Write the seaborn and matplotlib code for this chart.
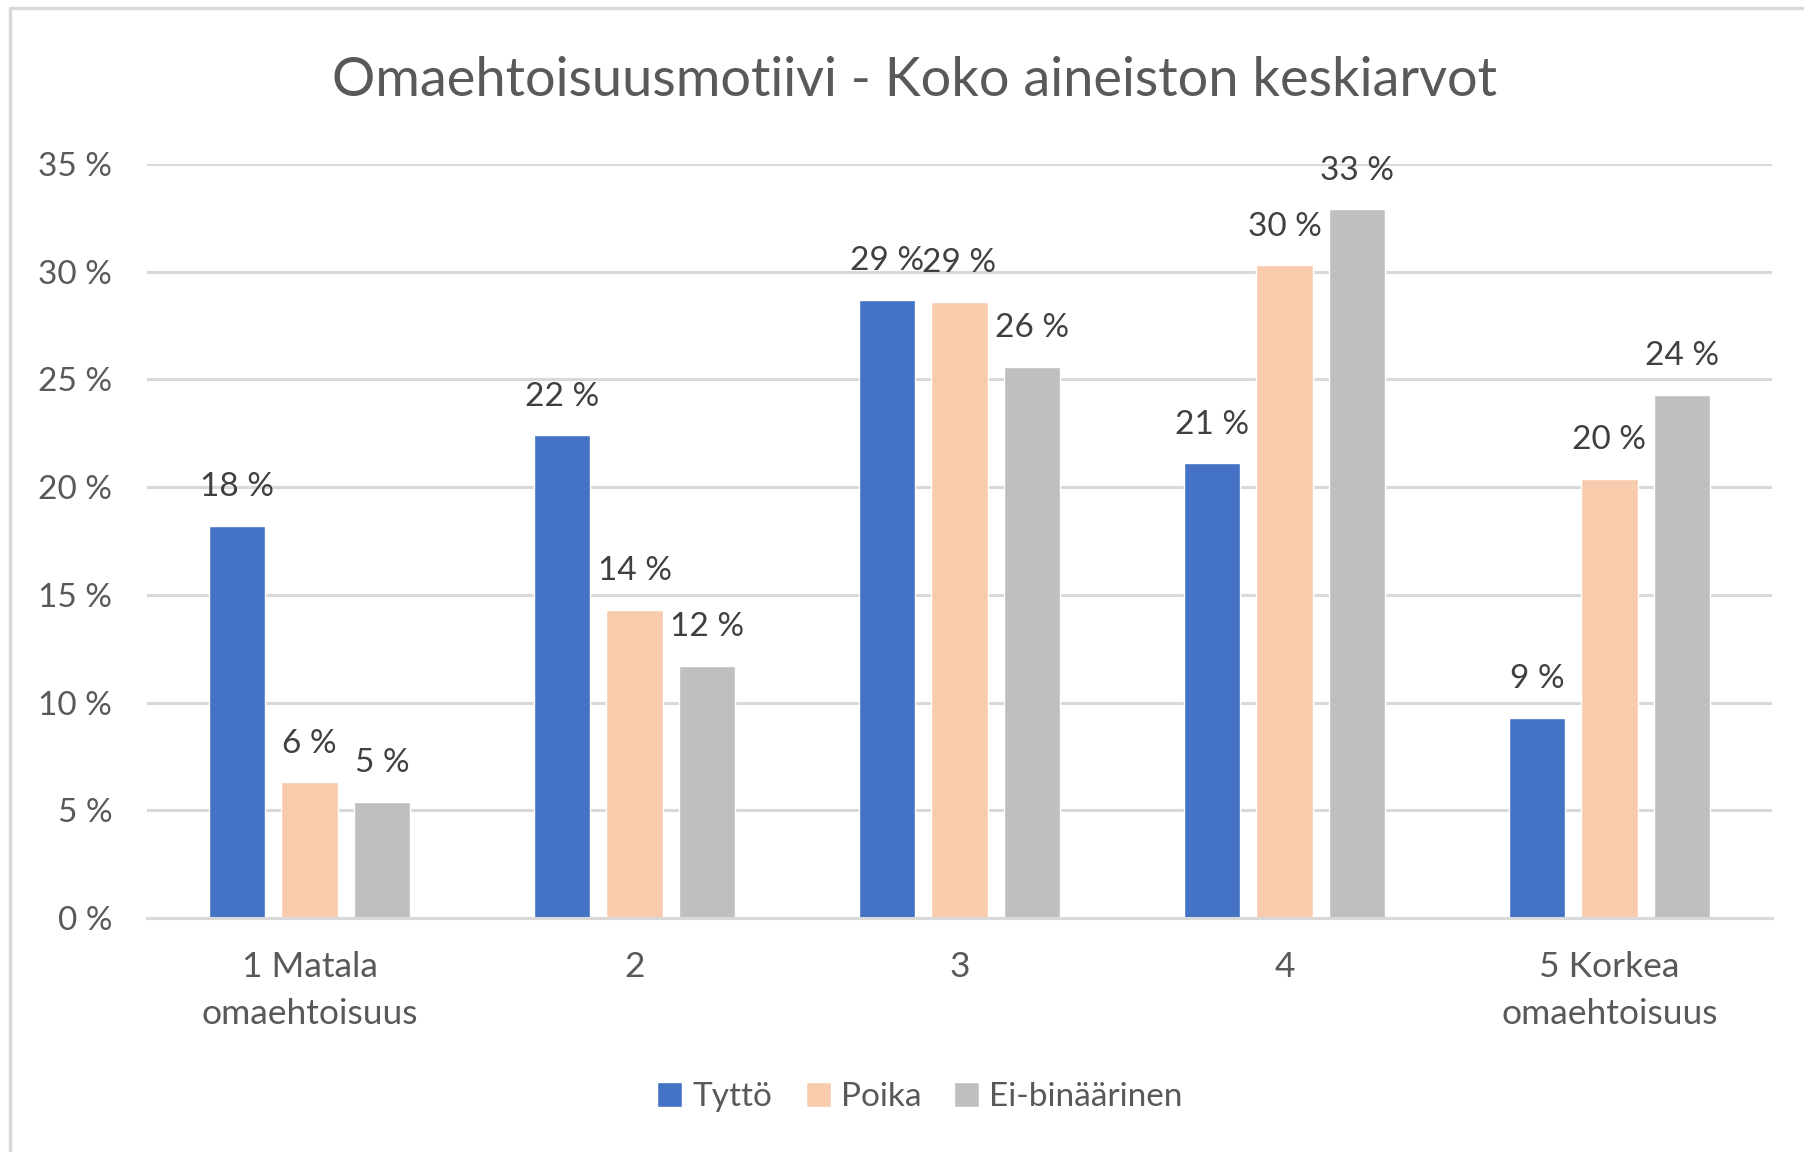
import numpy as np
import pandas as pd
import seaborn as sns
import matplotlib.pyplot as plt
from matplotlib.lines import Line2D

sns.set_theme(style="white")
plt.rcParams['font.family'] = ['Lato', 'DejaVu Sans']

categories = ["1 Matala\nomaehtoisuus", "2", "3", "4", "5 Korkea\nomaehtoisuus"]
groups = ["Tyttö", "Poika", "Ei-binäärinen"]
tytto = [18.2, 22.4, 28.7, 21.1, 9.3]
poika = [6.3, 14.3, 28.6, 30.3, 20.4]
ei_binaarinen = [5.4, 11.7, 25.6, 32.9, 24.3]
colors = ["#4472C4", "#F8CBAD", "#BFBFBF"]

df = pd.DataFrame({
    "kategoria": categories * 3,
    "ryhma": [g for g in groups for _ in categories],
    "arvo": tytto + poika + ei_binaarinen,
})

fig = plt.figure(figsize=(18.04, 11.52), dpi=100)
ax = fig.add_axes([147 / 1804, 1 - 918 / 1152, 1625 / 1804, 754 / 1152])

sns.barplot(data=df, x="kategoria", y="arvo", hue="ryhma", palette=colors,
            width=0.669, gap=0.215, saturation=1, ax=ax, legend=True)

ax.set_ylim(0, 35)
ax.set_xlim(-0.5, 4.5)
ax.set_yticks(np.arange(0, 36, 5))
ax.set_yticklabels(["{} %".format(v) for v in range(0, 36, 5)])
ax.set_xlabel("")
ax.set_ylabel("")
ax.yaxis.grid(True, color="#D9D9D9", linewidth=2.2)
ax.set_axisbelow(True)
for s in ["left", "right", "top"]:
    ax.spines[s].set_visible(False)
ax.spines["bottom"].set_color("#D9D9D9")
ax.spines["bottom"].set_linewidth(2.2)
ax.tick_params(axis="y", length=0, pad=25, labelsize=24, labelcolor="#595959")
ax.tick_params(axis="x", length=0, pad=24, labelsize=25.5, labelcolor="#595959")
for lbl in ax.get_xticklabels():
    lbl.set_linespacing(1.55)

# data labels
for cont in ax.containers:
    for bar in cont:
        h = bar.get_height()
        ax.annotate("{:.0f} %".format(h), (bar.get_x() + bar.get_width() / 2, h),
                    xytext=(0, 17), textcoords="offset points", ha="center", va="bottom",
                    fontsize=24, color="#404040")

handles, labels = ax.get_legend_handles_labels()
ax.get_legend().remove()
fig.legend(handles, labels, loc="center", bbox_to_anchor=(920 / 1804, 1 - 1097 / 1152),
           ncol=3, frameon=False, fontsize=24, labelcolor="#595959",
           handlelength=0.75, handleheight=0.75, handletextpad=0.3, columnspacing=1.0)

fig.text(915 / 1804, 1 - 80 / 1152, "Omaehtoisuusmotiivi - Koko aineiston keskiarvot",
         ha="center", va="center", fontsize=39, color="#595959")

# chart frame (left and top edges visible)
fig.add_artist(Line2D([10 / 1804, 10 / 1804, 1.0], [0.0, 1 - 8 / 1152, 1 - 8 / 1152],
                      transform=fig.transFigure, color="#D9D9D9", linewidth=2.5))

plt.savefig("out.png", dpi=100)
